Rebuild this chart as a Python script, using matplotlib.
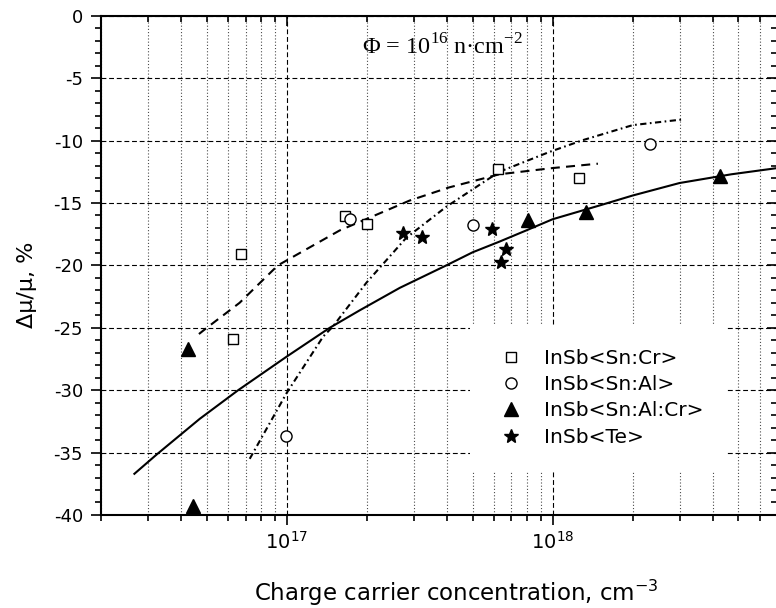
import numpy as np
import matplotlib
matplotlib.use('Agg')
import matplotlib.pyplot as plt
from matplotlib.ticker import LogLocator, MultipleLocator, NullFormatter

plt.rcParams['font.family'] = ['DejaVu Sans']
plt.rcParams['axes.unicode_minus'] = False
plt.rcParams['lines.scale_dashes'] = False

# measured points (concentration in cm^-3, delta mu / mu in %)
sncr_x = [6.3e16, 6.7e16, 1.65e17, 2.0e17, 6.25e17, 1.26e18]
sncr_y = [-25.9, -19.1, -16.05, -16.7, -12.3, -13.0]

snal_x = [9.9e16, 1.73e17, 5.0e17, 2.33e18]
snal_y = [-33.7, -16.3, -16.8, -10.3]

snalcr_x = [4.25e16, 4.43e16, 8.07e17, 1.33e18, 4.25e18]
snalcr_y = [-26.7, -39.3, -16.4, -15.7, -12.85]

te_x = [2.74e17, 3.23e17, 5.9e17, 6.41e17, 6.69e17]
te_y = [-17.4, -17.75, -17.1, -19.7, -18.65]

# fit curves
fit_solid_x = [2.67e16, 3.24e16, 4.7e16, 6.56e16, 1.0e17, 1.45e17, 1.88e17,
               2.66e17, 3.98e17, 5.0e17, 6.3e17, 7.95e17, 1.0e18, 1.5e18,
               2.0e18, 3.0e18, 4.7e18, 7.0e18]
fit_solid_y = [-36.7, -35.15, -32.3, -30.0, -27.3, -25.0, -23.6,
               -21.8, -20.0, -18.95, -18.1, -17.2, -16.3, -15.2,
               -14.4, -13.4, -12.7, -12.2]

fit_dash_x = [4.67e16, 5.0e16, 6.64e16, 9.25e16, 1.58e17, 2.9e17, 4.08e17,
              6.3e17, 1.0e18, 1.48e18]
fit_dash_y = [-25.5, -25.0, -23.0, -20.0, -17.2, -14.8, -13.75,
              -12.7, -12.2, -11.85]

fit_dd_x = [7.25e16, 1.0e17, 1.37e17, 1.49e17, 1.99e17, 2.81e17, 3.98e17,
            6.3e17, 9.75e17, 1.3e18, 2.0e18, 3.1e18]
fit_dd_y = [-35.5, -30.2, -25.7, -24.9, -21.4, -17.8, -15.3,
            -12.5, -10.9, -9.96, -8.76, -8.3]

fig = plt.figure(figsize=(7.76, 6.08), dpi=100)
ax = fig.add_axes([0.1302, 0.153, 0.8715, 0.821])

# grid
ax.set_axisbelow(True)
ax.grid(which='major', axis='both', color='k', lw=0.8, dashes=(3.5, 2))
ax.grid(which='minor', axis='x', color='0.3', lw=0.8, dashes=(0.8, 1.5))

ax.plot(fit_solid_x, fit_solid_y, color='k', lw=1.5)
ax.plot(fit_dash_x, fit_dash_y, color='k', lw=1.5, dashes=(6.5, 4.5))
ax.plot(fit_dd_x, fit_dd_y, color='k', lw=1.5, dashes=(4.5, 2.5, 1.2, 2.5))

ax.plot(sncr_x, sncr_y, 's', ms=7.5, mfc='white', mec='k', mew=1.0,
        ls='none', label='InSb<Sn:Cr>')
ax.plot(snal_x, snal_y, 'o', ms=8, mfc='white', mec='k', mew=1.0,
        ls='none', label='InSb<Sn:Al>')
ax.plot(snalcr_x, snalcr_y, '^', ms=10, color='k',
        ls='none', label='InSb<Sn:Al:Cr>')
ax.plot(te_x, te_y, '*', ms=10, color='k',
        ls='none', label='InSb<Te>')

ax.set_xscale('log')
ax.set_xlim(2e16, 7e18)
ax.set_ylim(-40, 0)
ax.xaxis.set_major_locator(LogLocator(base=10, numticks=10))
ax.xaxis.set_minor_locator(LogLocator(base=10, subs=np.arange(2, 10), numticks=20))
ax.xaxis.set_minor_formatter(NullFormatter())
ax.yaxis.set_major_locator(MultipleLocator(5))
ax.yaxis.set_minor_locator(MultipleLocator(1))

for s in ax.spines.values():
    s.set_linewidth(1.5)

ax.tick_params(which='major', length=7.5, width=1.2)
ax.tick_params(which='minor', length=4, width=1.2)
ax.tick_params(axis='x', which='both', top=True, direction='out',
               labelsize=14, pad=4)
ax.tick_params(axis='y', which='both', right=True, direction='out',
               labelsize=13, pad=5.5)
# top and right ticks point inward
for t in ax.xaxis.get_major_ticks() + ax.xaxis.get_minor_ticks():
    t.tick2line.set_marker(3)
for t in ax.yaxis.get_major_ticks() + ax.yaxis.get_minor_ticks():
    t.tick2line.set_marker(0)

fig.text(456 / 776, 1 - 601 / 608, 'Charge carrier concentration, cm$^{-3}$',
         fontsize=16.5, ha='center', va='baseline')
fig.text(33 / 776, 1 - 285 / 608, 'Δμ/μ, %', fontsize=16, rotation=90,
         ha='center', va='baseline', rotation_mode='anchor')

ax.text(0.386, 0.937, 'Φ = 10$^{\\mathdefault{16}}$ n·cm$^{\\mathdefault{-2}}$',
        transform=ax.transAxes, fontsize=17.5, family='Liberation Serif',
        ha='left', va='center')

leg = ax.legend(loc='upper left', bbox_to_anchor=(0.546, 0.381),
                borderaxespad=0, borderpad=1.2, handlelength=1.6,
                handletextpad=0.85, labelspacing=0.36, fontsize=14.5,
                frameon=True, fancybox=False, framealpha=1,
                facecolor='white', edgecolor='none')

fig.savefig('out.png', dpi=100)
